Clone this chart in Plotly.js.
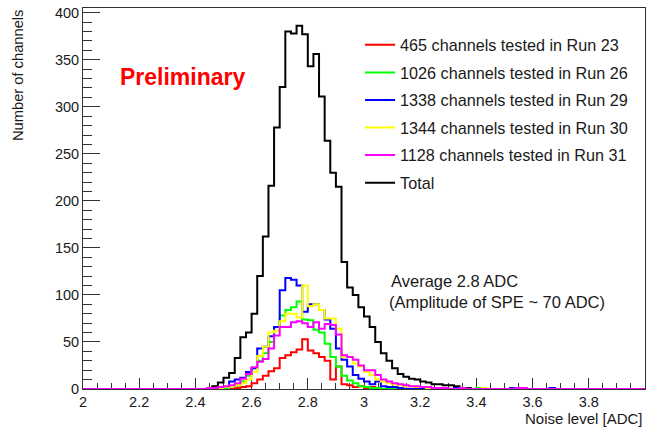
<!DOCTYPE html>
<html>
<head>
<meta charset="utf-8">
<script src="https://cdn.plot.ly/plotly-3.0.1.min.js"></script>
<style>html,body{margin:0;padding:0;background:#fff;}#chart{width:649px;height:427px;}</style>
</head>
<body>
<div id="chart"></div>
<script>
// Histogram binning: 100 bins of 0.02 ADC from 2.0 to 4.0
const axisMin = 2.0;
const axisMax = 4.0;
const binWidth = 0.02;
// counts below start at the bin whose low edge is 2.44 (bins 2.44 ... 3.66)
const firstBinLow = 2.44;

const seriesNames = [
  "465 channels tested in Run 23",
  "1026 channels tested in Run 26",
  "1338 channels tested in Run 29",
  "1344 channels tested in Run 30",
  "1128 channels tested in Run 31",
  "Total"
];

//                 2.44                          2.60                         2.80                          3.00                          3.20                          3.40                          3.60
const run23Counts = [0,0,0,1,0,1,2,3,6,10,14,19,22,33,36,39,42,53,41,38,34,30,10,24,5,4,2,3,1,2,1,0,0,0,0,0,0,0,0,0,0,0,0,0,0,0,0,0,0,0,0,0,0,0,0,0,0,0,0,0,0,0];
const run26Counts = [0,0,1,1,3,4,8,14,22,30,38,50,66,78,84,87,93,74,73,63,60,48,34,24,14,9,6,3,2,1,1,0,0,0,0,0,0,0,0,0,0,0,0,0,0,0,0,0,1,0,0,0,0,0,0,0,0,0,0,0,0,0];
const run29Counts = [0,0,1,2,8,10,12,18,22,43,45,56,66,105,118,116,110,82,90,90,84,74,64,43,31,24,15,11,8,5,8,3,2,2,1,0,0,0,0,0,0,0,0,0,1,0,0,0,0,0,0,0,0,0,1,0,0,0,0,0,0,1];
const run30Counts = [0,0,1,2,3,4,6,10,18,35,45,60,62,72,80,80,76,110,88,90,84,75,75,64,34,34,27,24,18,15,10,8,6,5,4,3,3,2,2,1,1,0,1,0,0,0,0,0,0,1,0,0,0,0,0,0,0,0,0,0,0,0];
const run31Counts = [1,1,2,3,4,6,11,16,23,29,32,43,57,66,66,71,72,70,66,71,64,69,68,58,36,34,31,25,20,20,15,10,8,6,5,4,3,3,2,2,1,1,1,0,0,1,0,0,0,0,0,0,0,0,0,1,1,0,0,0,0,0];
const totalCounts = [0,3,7,12,17,33,55,60,80,120,162,216,278,321,380,378,386,377,343,356,311,264,230,215,135,108,100,87,77,66,50,38,30,22,16,13,11,10,8,7,5,5,4,4,3,1,1,0,0,0,0,0,0,0,0,0,0,0,0,0,0,0];

const xTickVals = [2, 2.2, 2.4, 2.6, 2.8, 3, 3.2, 3.4, 3.6, 3.8, 4];
const yTickVals = [0, 50, 100, 150, 200, 250, 300, 350, 400];

// Build a full-range step outline (ROOT "HIST" style) from the counts
function stepTrace(counts, name, color, rank) {
  const nBins = Math.round((axisMax - axisMin) / binWidth);
  const offset = Math.round((firstBinLow - axisMin) / binWidth);
  const xs = [], ys = [];
  for (let k = 0; k < nBins; k++) {
    const j = k - offset;
    const c = (j >= 0 && j < counts.length) ? counts[j] : 0;
    xs.push(+(axisMin + k * binWidth).toFixed(4));
    ys.push(c);
  }
  xs.push(axisMax);
  ys.push(ys[ys.length - 1]);
  return {
    type: 'scatter', mode: 'lines', x: xs, y: ys, name: name,
    line: {shape: 'hv', color: color, width: 2},
    legendgroup: name, legendrank: rank, hoverinfo: 'skip'
  };
}

const traces = [
  stepTrace(totalCounts, seriesNames[5], '#000000', 6),
  stepTrace(run23Counts, seriesNames[0], '#ff0000', 1),
  stepTrace(run26Counts, seriesNames[1], '#00ff00', 2),
  stepTrace(run29Counts, seriesNames[2], '#0000ff', 3),
  stepTrace(run30Counts, seriesNames[3], '#ffff00', 4),
  stepTrace(run31Counts, seriesNames[4], '#ff00ff', 5)
];

const font = 'Liberation Sans, Arial, Helvetica, sans-serif';
const txt = '#1a1a1a';
const axc = '#333333';

const layout = {
  width: 649, height: 427,
  margin: {l: 83, r: 4, t: 8, b: 38},
  paper_bgcolor: '#ffffff', plot_bgcolor: '#ffffff',
  showlegend: true,
  legend: {
    x: 0.493, y: 0.948, xanchor: 'left', yanchor: 'top',
    font: {family: font, size: 16.2, color: txt},
    bgcolor: 'rgba(0,0,0,0)', borderwidth: 0,
    tracegroupgap: 3.5, traceorder: 'grouped'
  },
  xaxis: {
    range: [axisMin, axisMax], tickvals: xTickVals,
    ticks: 'inside', ticklen: 11, tickcolor: axc, tickwidth: 1,
    showline: true, linecolor: axc, linewidth: 1, mirror: true,
    showgrid: false, zeroline: false, layer: 'below traces',
    tickfont: {family: font, size: 14.5, color: txt},
    minor: {dtick: 0.05, tick0: 2, ticks: 'inside', ticklen: 6, tickcolor: axc, showgrid: false}
  },
  yaxis: {
    range: [0, 405], tickvals: yTickVals,
    ticks: 'inside', ticklen: 17, tickcolor: axc, tickwidth: 1,
    showline: true, linecolor: axc, linewidth: 1, mirror: true,
    showgrid: false, zeroline: false, layer: 'below traces',
    tickfont: {family: font, size: 14.5, color: txt},
    minor: {dtick: 10, tick0: 0, ticks: 'inside', ticklen: 9, tickcolor: axc, showgrid: false}
  },
  annotations: [
    {text: 'Preliminary', xref: 'paper', yref: 'paper', x: 0.0623, y: 0.819,
     xanchor: 'left', yanchor: 'middle', showarrow: false,
     font: {family: font, size: 23, color: '#ff0000', weight: 'bold'}},
    {text: 'Average 2.8 ADC', xref: 'paper', yref: 'paper', x: 0.5445, y: 0.2835,
     xanchor: 'left', yanchor: 'middle', showarrow: false,
     font: {family: font, size: 16.5, color: txt}},
    {text: '(Amplitude of SPE ~ 70 ADC)', xref: 'paper', yref: 'paper', x: 0.5409, y: 0.228,
     xanchor: 'left', yanchor: 'middle', showarrow: false,
     font: {family: font, size: 16.5, color: txt}},
    {text: 'Noise level [ADC]', xref: 'paper', yref: 'paper', x: 1.0, y: -0.0787,
     xanchor: 'right', yanchor: 'middle', showarrow: false,
     font: {family: font, size: 15, color: txt}},
    {text: 'Number of channels', xref: 'paper', yref: 'paper', x: -0.1157, y: 0.824,
     xanchor: 'center', yanchor: 'middle', textangle: -90, showarrow: false,
     font: {family: font, size: 14.7, color: txt}}
  ]
};

Plotly.newPlot('chart', traces, layout, {displayModeBar: false, staticPlot: true});
</script>
</body>
</html>
